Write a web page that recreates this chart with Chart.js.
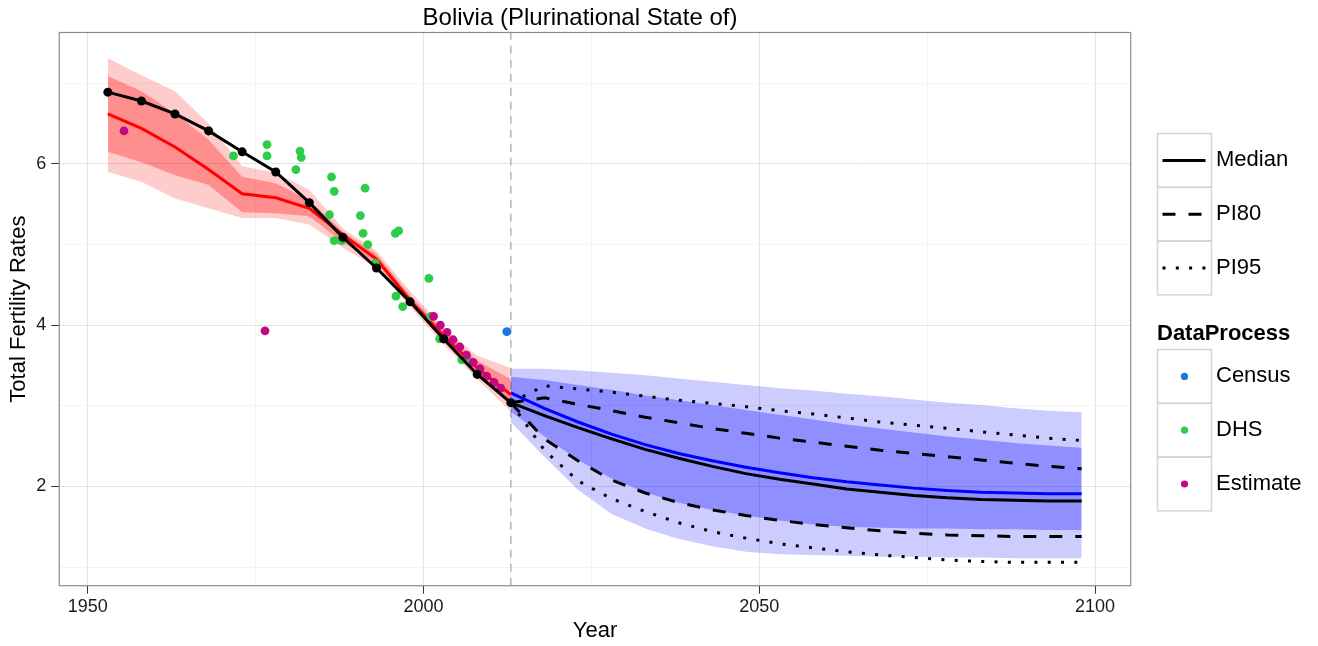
<!DOCTYPE html>
<html>
<head>
<meta charset="utf-8">
<title>Bolivia TFR</title>
<script src="https://cdn.jsdelivr.net/npm/chart.js@4.4.1/dist/chart.umd.min.js"></script>
<style>
  body { margin: 0; background: #fff; }
  #wrap { width: 1318px; height: 646px; }
</style>
</head>
<body>
<div id="wrap"><canvas id="chart" width="1318" height="646"></canvas></div>
<script>
"use strict"

//Axis settings
const xMin = 1945.77;
const xMax = 2105.3;
const yMin = 0.77;
const yMax = 7.63;
const xTickValues = [1950, 1975, 2000, 2025, 2050, 2075, 2100];
const yTickValues = [1, 2, 3, 4, 5, 6, 7];
const projStartYear = 2013;

//Past estimates (5 year periods)
const pastYears = [1953, 1958, 1963, 1968, 1973, 1978, 1983, 1988, 1993, 1998, 2003, 2008, 2013];
const pastMedian = [6.89, 6.78, 6.62, 6.41, 6.15, 5.90, 5.52, 5.09, 4.71, 4.29, 3.83, 3.39, 3.04];
const redMedian = [6.62, 6.44, 6.21, 5.93, 5.63, 5.58, 5.45, 5.12, 4.82, 4.31, 3.87, 3.47, 3.14];
const red80Upper = [7.09, 6.90, 6.63, 6.30, 5.84, 5.76, 5.55, 5.16, 4.88, 4.37, 3.93, 3.56, 3.33];
const red80Lower = [6.15, 6.02, 5.86, 5.74, 5.40, 5.39, 5.35, 5.03, 4.77, 4.27, 3.80, 3.38, 3.00];
const red95Upper = [7.31, 7.10, 6.90, 6.50, 5.97, 5.89, 5.68, 5.20, 4.92, 4.42, 3.97, 3.62, 3.47];
const red95Lower = [5.90, 5.78, 5.57, 5.45, 5.33, 5.33, 5.25, 4.96, 4.71, 4.23, 3.76, 3.33, 2.93];

//Projections
const projYears = [2013, 2018, 2023, 2028, 2033, 2038, 2043, 2048, 2053, 2058, 2063, 2068, 2073, 2078, 2083, 2088, 2093, 2098];
const projMedian = [3.04, 2.88, 2.73, 2.59, 2.46, 2.35, 2.25, 2.16, 2.09, 2.03, 1.97, 1.93, 1.89, 1.86, 1.84, 1.83, 1.82, 1.82];
const pi80Upper = [3.04, 3.10, 3.02, 2.94, 2.86, 2.79, 2.72, 2.66, 2.60, 2.55, 2.50, 2.45, 2.41, 2.37, 2.33, 2.29, 2.25, 2.22];
const pi80Lower = [3.04, 2.59, 2.32, 2.08, 1.92, 1.80, 1.71, 1.64, 1.58, 1.53, 1.49, 1.45, 1.42, 1.40, 1.39, 1.38, 1.38, 1.38];
const pi95Upper = [3.04, 3.25, 3.21, 3.17, 3.12, 3.07, 3.03, 2.99, 2.94, 2.90, 2.85, 2.80, 2.76, 2.72, 2.68, 2.64, 2.60, 2.57];
const pi95Lower = [3.04, 2.45, 2.07, 1.85, 1.69, 1.55, 1.44, 1.36, 1.29, 1.24, 1.19, 1.15, 1.12, 1.09, 1.07, 1.06, 1.06, 1.06];
const blueMedian = [3.16, 2.97, 2.80, 2.65, 2.52, 2.41, 2.32, 2.24, 2.17, 2.11, 2.06, 2.02, 1.98, 1.95, 1.93, 1.92, 1.91, 1.91];
const blue80Upper = [3.36, 3.32, 3.26, 3.20, 3.13, 3.07, 3.01, 2.95, 2.89, 2.83, 2.77, 2.72, 2.67, 2.62, 2.58, 2.54, 2.51, 2.48];
const blue80Lower = [2.93, 2.62, 2.33, 2.10, 1.93, 1.80, 1.71, 1.64, 1.58, 1.53, 1.50, 1.49, 1.48, 1.48, 1.47, 1.47, 1.46, 1.46];
const blue95Upper = [3.46, 3.46, 3.44, 3.41, 3.38, 3.34, 3.30, 3.26, 3.22, 3.19, 3.15, 3.12, 3.08, 3.04, 3.01, 2.97, 2.94, 2.92];
const blue95Lower = [2.80, 2.37, 1.96, 1.66, 1.48, 1.35, 1.26, 1.19, 1.16, 1.15, 1.14, 1.13, 1.13, 1.12, 1.12, 1.11, 1.11, 1.11];

//Observed data points
const dhsYears = [1971.7, 1976.7, 1976.7, 1981.6, 1981.8, 1981.0, 1986.3, 1986.7, 1991.3, 1986.0, 1990.6, 1991.0, 1986.7, 1987.8, 1991.7, 1995.8, 1996.3, 1992.8, 2000.8, 1995.9, 1996.9, 2001.1, 2002.4, 2005.7, 2006.7];
const dhsTfr = [6.10, 6.24, 6.10, 6.16, 6.08, 5.93, 5.84, 5.66, 5.70, 5.37, 5.36, 5.14, 5.05, 5.05, 5.00, 5.14, 5.17, 4.77, 4.58, 4.36, 4.23, 4.11, 3.83, 3.57, 3.55];
const estimateYears = [1955.4, 1976.4, 2001.5, 2002.5, 2003.5, 2004.4, 2005.4, 2006.4, 2007.4, 2008.4, 2009.4, 2010.5, 2011.5];
const estimateTfr = [6.41, 3.93, 4.11, 4.00, 3.91, 3.82, 3.73, 3.63, 3.54, 3.46, 3.37, 3.29, 3.22];
const censusYears = [2012.4];
const censusTfr = [3.92];

//Legend entries
const lineKeys = ["Median", "PI80", "PI95"];
const lineDashes = [[], [13, 13], [3, 10.3]];
const processNames = ["Census", "DHS", "Estimate"];
const processColors = ["#1a78dc", "#2ecc48", "#c20a80"];

const fontFamily = '"Liberation Sans", Arial, Helvetica, sans-serif';
Chart.defaults.font.family = fontFamily;

//Helper to zip x and y arrays
function toPoints(xs, ys) {
  let pts = [];
  for (let i = 0; i < xs.length; i++) {
    pts.push({ x: xs[i], y: ys[i] });
  }
  return pts;
}

function bandLine(xs, ys, order, fill) {
  return {
    data: toPoints(xs, ys),
    borderColor: "transparent",
    borderWidth: 0,
    pointRadius: 0,
    backgroundColor: fill || "transparent",
    fill: fill ? "+1" : false,
    order: order
  };
}

function plainLine(xs, ys, color, dash, order) {
  return {
    data: toPoints(xs, ys),
    borderColor: color,
    borderWidth: 3,
    borderDash: dash,
    borderCapStyle: "butt",
    pointRadius: 0,
    fill: false,
    order: order
  };
}

function pointSet(xs, ys, color, order) {
  return {
    data: toPoints(xs, ys),
    showLine: false,
    pointRadius: 4.4,
    pointBackgroundColor: color,
    pointBorderWidth: 0,
    borderColor: color,
    order: order
  };
}

const datasets = [
  {
    data: [{ x: projStartYear, y: yMin }, { x: projStartYear, y: yMax }],
    borderColor: "#b3b3b3",
    borderWidth: 1.5,
    borderDash: [8, 6],
    pointRadius: 0,
    fill: false,
    order: 30
  },
  bandLine(pastYears, red95Upper, 20, "rgba(255,0,0,0.2)"),
  bandLine(pastYears, red95Lower, 20),
  bandLine(pastYears, red80Upper, 19, "rgba(255,0,0,0.3)"),
  bandLine(pastYears, red80Lower, 19),
  bandLine(projYears, blue95Upper, 18, "rgba(0,0,255,0.2)"),
  bandLine(projYears, blue95Lower, 18),
  bandLine(projYears, blue80Upper, 17, "rgba(0,0,255,0.3)"),
  bandLine(projYears, blue80Lower, 17),
  plainLine(pastYears, redMedian, "#ff0000", [], 12),
  plainLine(projYears, blueMedian, "#0000ff", [], 12),
  plainLine(projYears, pi95Upper, "#000", lineDashes[2], 11),
  plainLine(projYears, pi95Lower, "#000", lineDashes[2], 11),
  plainLine(projYears, pi80Upper, "#000", lineDashes[1], 10),
  plainLine(projYears, pi80Lower, "#000", lineDashes[1], 10),
  pointSet(dhsYears, dhsTfr, processColors[1], 8),
  pointSet(estimateYears, estimateTfr, processColors[2], 7),
  pointSet(censusYears, censusTfr, processColors[0], 7),
  plainLine(projYears, projMedian, "#000", [], 4),
  {
    data: toPoints(pastYears, pastMedian),
    borderColor: "#000",
    borderWidth: 3,
    pointRadius: 4.5,
    pointBackgroundColor: "#000",
    pointBorderWidth: 0,
    fill: false,
    order: 3
  }
];

//Panel border, title and legend
const framePlugin = {
  id: "frame",
  afterDraw(chart) {
    const ctx = chart.ctx;
    const a = chart.chartArea;
    ctx.save();
    ctx.strokeStyle = "#8c8c8c";
    ctx.lineWidth = 1.2;
    ctx.strokeRect(a.left, a.top, a.right - a.left, a.bottom - a.top);

    ctx.fillStyle = "#000";
    ctx.font = "24px " + fontFamily;
    ctx.textAlign = "center";
    ctx.textBaseline = "middle";
    ctx.fillText("Bolivia (Plurinational State of)", 580, 18);

    //legend for lines
    const boxX = 1157.5;
    const boxW = 54;
    const boxH = 53.8;
    let top = 133.5;
    ctx.textAlign = "left";
    ctx.font = "22px " + fontFamily;
    for (let i = 0; i < lineKeys.length; i++) {
      const y = top + i * boxH;
      ctx.strokeStyle = "#d4d4d4";
      ctx.lineWidth = 1.5;
      ctx.strokeRect(boxX, y, boxW, boxH);
      ctx.strokeStyle = "#000";
      ctx.lineWidth = 3;
      ctx.lineCap = "butt";
      ctx.setLineDash(lineDashes[i]);
      ctx.beginPath();
      ctx.moveTo(boxX + 5, y + boxH / 2);
      ctx.lineTo(boxX + 48, y + boxH / 2);
      ctx.stroke();
      ctx.setLineDash([]);
      ctx.fillText(lineKeys[i], 1216, y + boxH / 2);
    }

    //legend for data process
    ctx.font = "bold 22px " + fontFamily;
    ctx.fillText("DataProcess", 1157, 334);
    ctx.font = "22px " + fontFamily;
    top = 349.5;
    for (let i = 0; i < processNames.length; i++) {
      const y = top + i * boxH;
      ctx.strokeStyle = "#d4d4d4";
      ctx.lineWidth = 1.5;
      ctx.strokeRect(boxX, y, boxW, boxH);
      ctx.fillStyle = processColors[i];
      ctx.beginPath();
      ctx.arc(boxX + boxW / 2, y + boxH / 2, 3.6, 0, Math.PI * 2);
      ctx.fill();
      ctx.fillStyle = "#000";
      ctx.fillText(processNames[i], 1216, y + boxH / 2);
    }
    ctx.restore();
  }
};

function gridColor(ctx, step) {
  return ctx.tick && ctx.tick.value % step === 0 ? "#e4e4e4" : "#f3f3f3";
}
function tickColor(ctx, step) {
  return ctx.tick && ctx.tick.value % step === 0 ? "#333" : "transparent";
}

const config = {
  type: "line",
  data: { datasets: datasets },
  plugins: [framePlugin],
  options: {
    responsive: false,
    animation: false,
    layout: { padding: { left: 0, right: 187.3, top: 32.5, bottom: 0 } },
    plugins: {
      legend: { display: false },
      tooltip: { enabled: false }
    },
    elements: { line: { tension: 0 } },
    scales: {
      x: {
        type: "linear",
        min: xMin,
        max: xMax,
        afterBuildTicks: s => { s.ticks = xTickValues.map(v => ({ value: v })); },
        afterFit: s => { s.height = 60.3; },
        ticks: {
          autoSkip: false,
          maxRotation: 0,
          padding: 3,
          color: "#1a1a1a",
          font: { size: 18 },
          callback: v => (v % 50 === 0 ? String(v) : "")
        },
        grid: {
          color: ctx => gridColor(ctx, 50),
          tickColor: ctx => tickColor(ctx, 50),
          tickLength: 8,
          lineWidth: 1
        },
        border: { display: false },
        title: { display: true, text: "Year", color: "#000", font: { size: 22 }, padding: { top: 0, bottom: 2 } }
      },
      y: {
        min: yMin,
        max: yMax,
        afterBuildTicks: s => { s.ticks = yTickValues.map(v => ({ value: v })); },
        afterFit: s => { s.width = 59.3; },
        ticks: {
          padding: 5,
          color: "#1a1a1a",
          font: { size: 18 },
          callback: v => (v % 2 === 0 ? String(v) : "")
        },
        grid: {
          color: ctx => gridColor(ctx, 2),
          tickColor: ctx => tickColor(ctx, 2),
          tickLength: 8,
          lineWidth: 1
        },
        border: { display: false },
        title: { display: true, text: "Total Fertility Rates", color: "#000", font: { size: 22 }, padding: { top: 6, bottom: 0 } }
      }
    }
  }
};

const myChart = new Chart(document.getElementById("chart"), config);
</script>
</body>
</html>
